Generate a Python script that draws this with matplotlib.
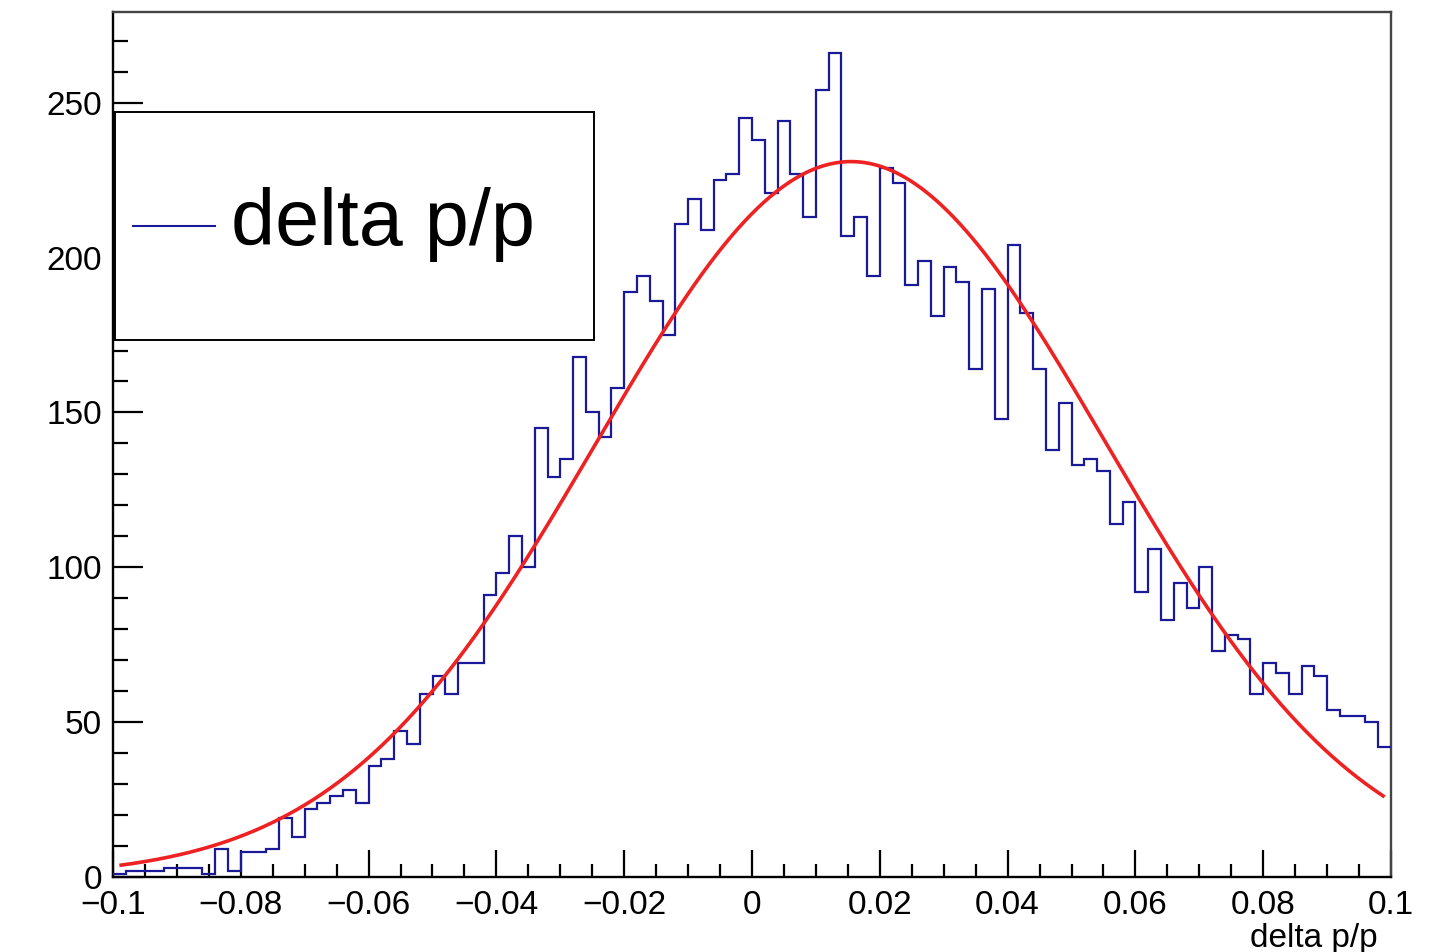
import numpy as np
import matplotlib
matplotlib.use("Agg")
import matplotlib.pyplot as plt
from matplotlib.patches import Rectangle
from matplotlib.lines import Line2D
from matplotlib.ticker import MultipleLocator, FixedLocator, FixedFormatter

plt.rcParams['font.family'] = ['Liberation Sans', 'DejaVu Sans']

# ---- data ----
bin_lo, bin_hi, n_bins = -0.1, 0.1, 100
counts = [1, 2, 2, 2, 3, 3, 3, 1, 9, 2,
          8, 8, 9, 19, 13, 22, 24, 26, 28, 24,
          36, 38, 47, 43, 59, 65, 59, 69, 69, 91,
          98, 110, 100, 145, 129, 135, 168, 150, 142, 158,
          189, 194, 186, 175, 211, 219, 209, 225, 227, 245,
          238, 221, 244, 227, 213, 254, 266, 207, 213, 194,
          229, 224, 191, 199, 181, 197, 192, 164, 190, 148,
          204, 182, 164, 138, 153, 133, 135, 131, 114, 121,
          92, 106, 83, 95, 87, 100, 73, 78, 77, 59,
          69, 66, 59, 68, 65, 54, 52, 52, 50, 42]
fit_amp, fit_mean, fit_sigma = 231.0, 0.0155, 0.0399
fit_lo, fit_hi = -0.099, 0.099
xtick_vals = [-0.1, -0.08, -0.06, -0.04, -0.02, 0, 0.02, 0.04, 0.06, 0.08, 0.1]
xtick_labels = ["\u22120.1", "\u22120.08", "\u22120.06", "\u22120.04", "\u22120.02",
                "0", "0.02", "0.04", "0.06", "0.08", "0.1"]
ytick_vals = [0, 50, 100, 150, 200, 250]
legend_label = "delta p/p"
x_title = "delta p/p"

W, H = 1434, 952
fig = plt.figure(figsize=(W / 100, H / 100), dpi=100)
ax_l, ax_r, ax_t, ax_b = 113, 1391, 12, 877
ax = fig.add_axes([ax_l / W, (H - ax_b) / H, (ax_r - ax_l) / W, (ax_b - ax_t) / H])

edges = np.linspace(bin_lo, bin_hi, n_bins + 1)
ax.stairs(counts, edges, baseline=None, color='#1a1a99', lw=1.6, zorder=3)

xf = np.linspace(fit_lo, fit_hi, 600)
yf = fit_amp * np.exp(-0.5 * ((xf - fit_mean) / fit_sigma) ** 2)
ax.plot(xf, yf, color='#ee2222', lw=2.6, zorder=4, solid_capstyle='butt')

ax.set_xlim(bin_lo, bin_hi)
ax.set_ylim(0, max(counts) * 1.05)

# ticks
ax.xaxis.set_major_locator(FixedLocator(xtick_vals))
ax.xaxis.set_major_formatter(FixedFormatter(xtick_labels))
ax.xaxis.set_minor_locator(MultipleLocator(0.005))
ax.yaxis.set_major_locator(FixedLocator(ytick_vals))
ax.yaxis.set_minor_locator(MultipleLocator(10))
ax.tick_params(axis='x', which='major', direction='in', length=19.5, width=1.6,
               labelsize=24, pad=9, top=False)
ax.tick_params(axis='x', which='minor', direction='in', length=9.5, width=1.6, top=False)
ax.tick_params(axis='y', which='major', direction='in', length=21.5, width=1.6,
               labelsize=24, pad=8, right=False)
ax.tick_params(axis='y', which='minor', direction='in', length=10.5, width=1.6, right=False)

for side in ['left', 'bottom']:
    ax.spines[side].set_color('black')
    ax.spines[side].set_linewidth(1.7)
for side in ['top', 'right']:
    ax.spines[side].set_color('#444444')
    ax.spines[side].set_linewidth(1.7)

# x-axis title
ax.set_xlabel(x_title, fontsize=24)
ax.xaxis.set_label_coords((1378 - ax_l) / (ax_r - ax_l), (ax_b - 938) / (ax_b - ax_t))
ax.xaxis.label.set_ha('right')
ax.xaxis.label.set_va('center')

# legend box (ROOT style)
lx0, lx1, ly0, ly1 = 115, 594, 112, 340
def ax_x(px):
    return (px - ax_l) / (ax_r - ax_l)
def ax_y(py):
    return (ax_b - py) / (ax_b - ax_t)
rect = Rectangle((ax_x(lx0), ax_y(ly1)), ax_x(lx1) - ax_x(lx0), ax_y(ly0) - ax_y(ly1),
                 transform=ax.transAxes, facecolor='white', edgecolor='black',
                 lw=1.4, zorder=10, clip_on=False)
ax.add_patch(rect)
ax.add_line(Line2D([ax_x(133), ax_x(215)], [ax_y(226), ax_y(226)], transform=ax.transAxes,
                   color='#1a1a99', lw=1.5, zorder=11))
ax.text(ax_x(231), ax_y(224), legend_label, transform=ax.transAxes, fontsize=57,
        ha='left', va='center', zorder=11)

fig.savefig("out.png", dpi=100, facecolor='white')
